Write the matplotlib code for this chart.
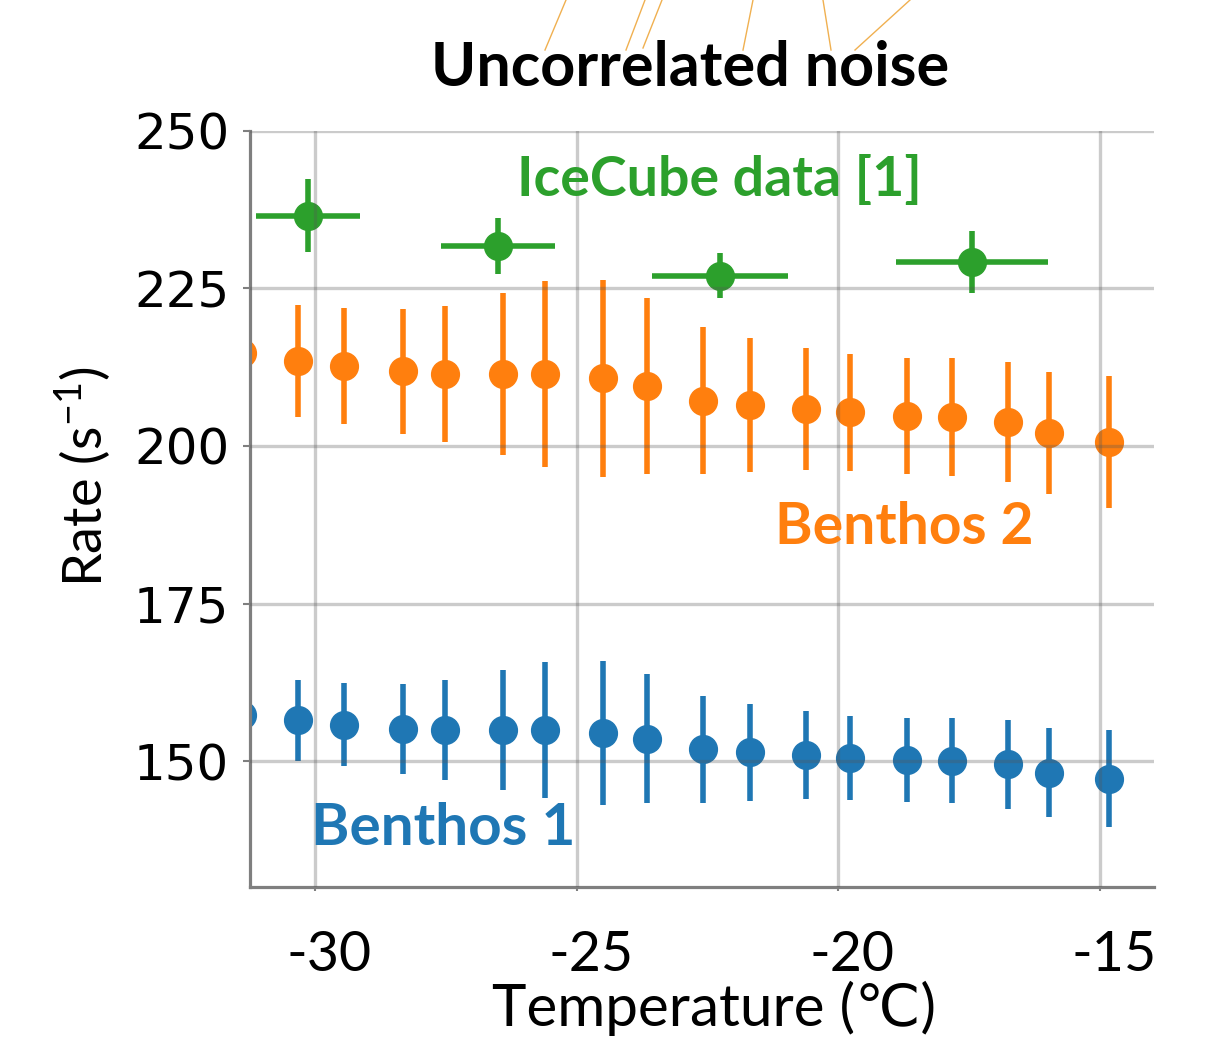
import matplotlib
matplotlib.use('Agg')
import matplotlib.pyplot as plt
from matplotlib.lines import Line2D
from matplotlib.transforms import ScaledTranslation

# temperatures of the Benthos points (same for both modules)
temps = [-31.40, -30.32, -29.45, -28.32, -27.52, -26.40, -25.61, -24.50, -23.65,
         -22.58, -21.69, -20.62, -19.77, -18.69, -17.83, -16.75, -15.97, -14.83]

rate_b1 = [157.4, 156.5, 155.8, 155.1, 154.9, 154.9, 154.9, 154.5, 153.6,
           151.9, 151.4, 151.0, 150.5, 150.2, 150.1, 149.5, 148.2, 147.2]
err_b1 = [6.4, 6.4, 6.6, 7.2, 7.9, 9.5, 10.8, 11.4, 10.2,
          8.5, 7.7, 7.0, 6.7, 6.7, 6.8, 7.0, 7.1, 7.7]

rate_b2 = [214.7, 213.5, 212.6, 211.8, 211.4, 211.4, 211.4, 210.7, 209.5,
           207.2, 206.5, 205.9, 205.3, 204.8, 204.6, 203.8, 202.0, 200.6]
err_b2 = [9.0, 8.9, 9.2, 9.9, 10.8, 12.8, 14.7, 15.6, 13.9,
          11.7, 10.6, 9.7, 9.3, 9.2, 9.4, 9.5, 9.7, 10.5]

# IceCube data [1]
temp_ic = [-30.13, -26.51, -22.26, -17.44]
temp_ic_err = [1.00, 1.09, 1.30, 1.45]
rate_ic = [236.5, 231.7, 227.0, 229.2]
err_ic = [5.8, 4.5, 3.6, 4.9]

x_ticks = [-30, -25, -20, -15]
y_ticks = [150, 175, 200, 225, 250]

BLUE = '#1f77b4'
ORANGE = '#ff7f0e'
GREEN = '#2ca02c'
TXT = 'Lato'

plt.rcParams['mathtext.fontset'] = 'custom'
plt.rcParams['mathtext.rm'] = TXT

fig = plt.figure(figsize=(12.09, 10.43), dpi=100)
ax = fig.add_axes([250 / 1209, 1 - 886.7 / 1043, 904 / 1209, 756.1 / 1043])

style = dict(fmt='o', markersize=20, elinewidth=4.0, capsize=0)
ax.errorbar(temps, rate_b1, yerr=err_b1, color=BLUE, **style)
ax.errorbar(temps, rate_b2, yerr=err_b2, color=ORANGE, **style)
ax.errorbar(temp_ic, rate_ic, yerr=err_ic, xerr=temp_ic_err, color=GREEN, **style)

ax.set_xlim(-31.24, -13.97)
ax.set_ylim(130.1, 250)
ax.set_xticks(x_ticks)
ax.set_yticks(y_ticks)
ax.set_xticklabels([str(t) for t in x_ticks], family=TXT, fontsize=40)
ax.set_yticklabels([str(t) for t in y_ticks], family='DejaVu Sans', fontsize=36)

ax.grid(True, color='#555555', alpha=0.3, linewidth=2.4)
ax.set_axisbelow(False)

for s in ['top', 'right']:
    ax.spines[s].set_visible(False)
for s in ['left', 'bottom']:
    ax.spines[s].set_color('#7f7f7f')
    ax.spines[s].set_linewidth(2.3)
ax.tick_params(axis='y', length=5, width=1.5, color='#7f7f7f', pad=10)
ax.tick_params(axis='x', length=3, width=1.5, color='#7f7f7f', pad=28)

# the x labels sit a little to the right of their ticks in the original
shift = ScaledTranslation(14 / 100, 0, fig.dpi_scale_trans)
for tick in ax.xaxis.get_major_ticks():
    tick.label1.set_transform(tick.label1.get_transform() + shift)

ax.set_xlabel('Temperature (\u2103)', family=[TXT, 'DejaVu Sans'], fontsize=42, labelpad=4)
ax.xaxis.set_label_coords(0.513, -0.125)
ax.xaxis.label.set_va('top')
ax.set_ylabel('Rate (s$^{\\mathregular{-1}}$)', family=TXT, fontsize=39)
ax.yaxis.set_label_coords(-0.152, 0.542)

ax.text(-22.28, 242.2, 'IceCube data [1]', color=GREEN, family=TXT,
        fontweight='bold', fontsize=40, ha='center', va='center')
ax.text(-18.74, 187.0, 'Benthos 2', color=ORANGE, family=TXT,
        fontweight='bold', fontsize=41, ha='center', va='center')
ax.text(-27.54, 139.4, 'Benthos 1', color=BLUE, family=TXT,
        fontweight='bold', fontsize=42, ha='center', va='center')

fig.text(690 / 1209, 1 - 68 / 1043, 'Uncorrelated noise', family=TXT,
         fontweight='bold', fontsize=44, ha='center', va='center')

# thin background lines at the top (poster decoration)
deco = [((566, 0), (545, 50)), ((645, 0), (626, 50)), ((662, 0), (643, 48)),
        ((753, 0), (743, 50)), ((823, 0), (831, 50)), ((910, 0), (855, 50))]
for (x0, y0), (x1, y1) in deco:
    fig.add_artist(Line2D([x0 / 1209, x1 / 1209], [1 - y0 / 1043, 1 - y1 / 1043],
                          transform=fig.transFigure, color='#f0b050', linewidth=1.0))

fig.savefig('out.png', dpi=100)
